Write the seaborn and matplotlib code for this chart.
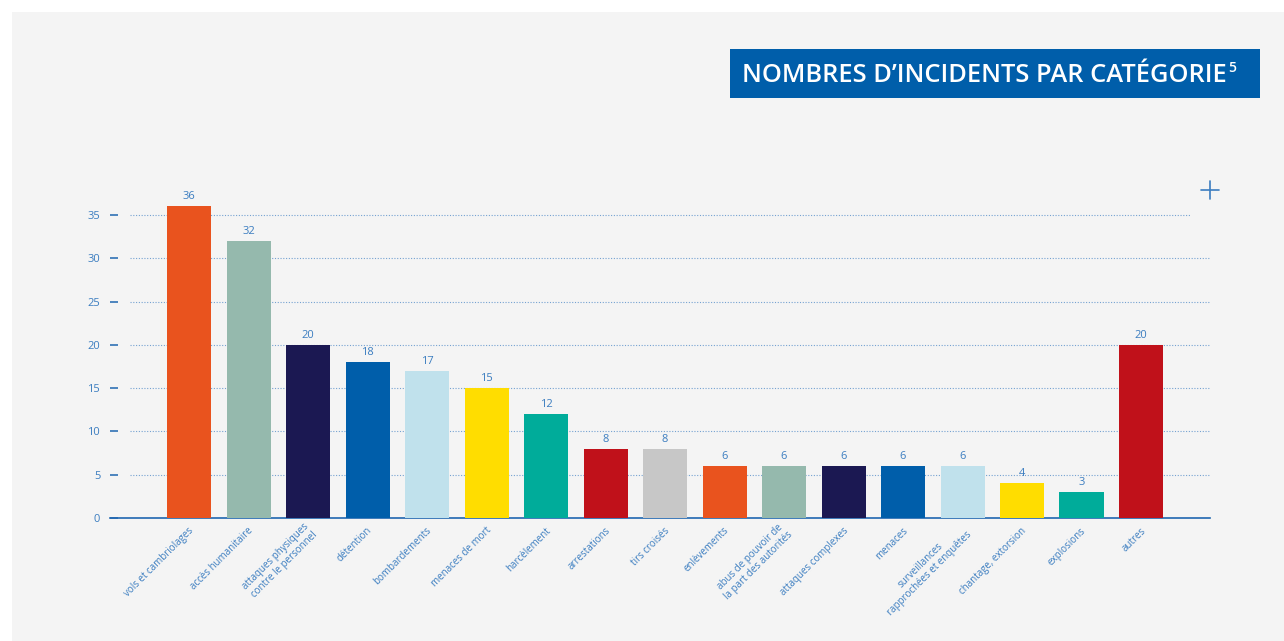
"""
Nombres d'incidents par catégorie - bar chart.
"""

import matplotlib
matplotlib.use("Agg")
import matplotlib.pyplot as plt
import matplotlib.transforms as mtransforms
from matplotlib.patches import Rectangle
from matplotlib.lines import Line2D
import pandas as pd
import seaborn as sns

categories = [
    "vols et cambriolages", "accès humanitaire", "attaques physiques\ncontre le personnel",
    "détention", "bombardements", "menaces de mort", "harcèlement", "arrestations",
    "tirs croisés", "enlèvements", "abus de pouvoir de\nla part des autorités",
    "attaques complexes", "menaces", "surveillances\nrapprochées et enquêtes",
    "chantage, extorsion", "explosions", "autres",
]
values = [36, 32, 20, 18, 17, 15, 12, 8, 8, 6, 6, 6, 6, 6, 4, 3, 20]
bar_colors = [
    "#E9531E", "#95B9AD", "#1B1852", "#005EAA", "#C0E1EC", "#FFDD00", "#00AC9A",
    "#C0111A", "#C7C7C7", "#E9531E", "#95B9AD", "#1B1852", "#005EAA", "#C0E1EC",
    "#FFDD00", "#00AC9A", "#C0111A",
]
y_ticks = [0, 5, 10, 15, 20, 25, 30, 35]
title = "NOMBRES D\u2019INCIDENTS PAR CATÉGORIE"

sns.set_theme(style="white")
plt.rcParams["font.family"] = ["Open Sans", "DejaVu Sans"]

BLUE_TXT = "#3B7DC0"
BLUE_LINE = "#1F66B0"
PANEL = "#F4F4F4"

df = pd.DataFrame({"cat": categories, "val": values})

fig = plt.figure(figsize=(12.84, 6.41), dpi=100, facecolor="white")
fig.patches.append(Rectangle((12 / 1284, 0), 1, 1 - 12 / 641, transform=fig.transFigure,
                             facecolor=PANEL, edgecolor="none", zorder=-10))

ax = fig.add_axes([110 / 1284, 1 - 518 / 641, 1100 / 1284, 346.3 / 641])
ax.set_facecolor(PANEL)

sns.barplot(data=df, x="cat", y="val", hue="cat", palette=bar_colors, legend=False,
            width=0.74, saturation=1, linewidth=0, ax=ax, zorder=3)

for c in ax.containers:
    ax.bar_label(c, padding=3, fontsize=8, color=BLUE_TXT)

ax.set_xlim(-1.33, 17.16)
ax.set_ylim(0, 40)
ax.set_yticks(y_ticks)
ax.set_yticklabels([str(t) for t in y_ticks])

# dotted grid starting a bit right of the tick marks
for t in y_ticks[1:]:
    xmax = 1081 / 1100 if t == 35 else 1.0
    ax.axhline(t, xmin=20 / 1100, xmax=xmax, ls=(0, (1, 1.5)), lw=0.8,
               color="#4A86C5", alpha=0.75, zorder=1)

for s in ["top", "right", "left"]:
    ax.spines[s].set_visible(False)
ax.spines["bottom"].set_color(BLUE_LINE)
ax.spines["bottom"].set_linewidth(1.2)

ax.tick_params(axis="y", direction="in", length=5.8, width=1.1, color=BLUE_LINE,
               pad=7, labelsize=8, labelcolor=BLUE_TXT, left=True)
ax.tick_params(axis="x", length=0, pad=8, labelsize=7, labelcolor=BLUE_TXT)

offset = mtransforms.ScaledTranslation(3 / 100, 0, fig.dpi_scale_trans)
for lab in ax.get_xticklabels():
    lab.set_rotation(45)
    lab.set_ha("right")
    lab.set_va("center")
    lab.set_rotation_mode("anchor")
    lab.set_multialignment("center")
    lab.set_transform(lab.get_transform() + offset)

ax.set_xlabel("")
ax.set_ylabel("")

# title box
fig.patches.append(Rectangle((730 / 1284, 1 - 98 / 641), 530 / 1284, 49 / 641,
                             transform=fig.transFigure, facecolor="#005EAA",
                             edgecolor="none", zorder=5))
t = fig.text(742 / 1284, 1 - 75 / 641, title, color="white", fontsize=18.4,
             fontweight="semibold", ha="left", va="center", zorder=6)
fig.canvas.draw()
bb = t.get_window_extent()
fig.text(bb.x1 / 1284 + 1 / 1284, 1 - 68 / 641, "5", color="white", fontsize=10,
         fontweight="semibold", ha="left", va="center", zorder=6)

# plus sign decoration
px, py = 1210, 190
fig.lines.append(Line2D([(px - 9) / 1284, (px + 9) / 1284], [1 - py / 641] * 2,
                        transform=fig.transFigure, color="#3B7DC0", lw=1.2))
fig.lines.append(Line2D([px / 1284] * 2, [1 - (py - 9) / 641, 1 - (py + 9) / 641],
                        transform=fig.transFigure, color="#3B7DC0", lw=1.2))

fig.savefig("out.png", dpi=100, facecolor="white")
